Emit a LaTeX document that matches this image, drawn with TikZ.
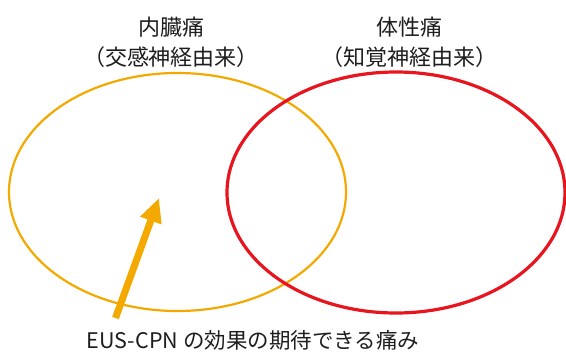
\documentclass[tikz,border=0pt]{standalone}
\usepackage{fontspec}
\setmainfont{Noto Sans CJK JP}
\usetikzlibrary{shapes.geometric,arrows.meta}
\definecolor{vorange}{HTML}{F4A900}
\definecolor{sred}{HTML}{E8141E}
\definecolor{txt}{HTML}{1E1E1E}
\tikzset{
  setring/.style={ellipse, draw, inner sep=0pt},
  lbl/.style={text=txt, font=\fontsize{22}{30}\selectfont, align=center, inner sep=0pt},
  pointer/.style={draw=vorange, line width=7pt, -{Triangle[length=24pt,width=21pt]}}
}
\begin{document}
\begin{tikzpicture}[x=1pt,y=-1pt]
\useasboundingbox (0,0) rectangle (566,354);
\node[setring, draw=vorange, line width=2.2pt, minimum width=337pt, minimum height=238pt] (visc) at (177.5,192) {};
\node[setring, draw=sred, line width=3.2pt, minimum width=338pt, minimum height=241pt] (soma) at (396,192.5) {};
\node[lbl] (viscl) at (171,42) {内臓痛\\（交感神経由来）};
\node[lbl] (somal) at (409,42) {体性痛\\（知覚神経由来）};
\node[lbl, font=\fontsize{21.5}{26}\selectfont] (note) at (253,340) {EUS-CPN の効果の期待できる痛み};
\coordinate (tail) at (115.5,318);
\coordinate (tip) at (159,198);
\draw[pointer] (tail) -- (tip);
\end{tikzpicture}
\end{document}
